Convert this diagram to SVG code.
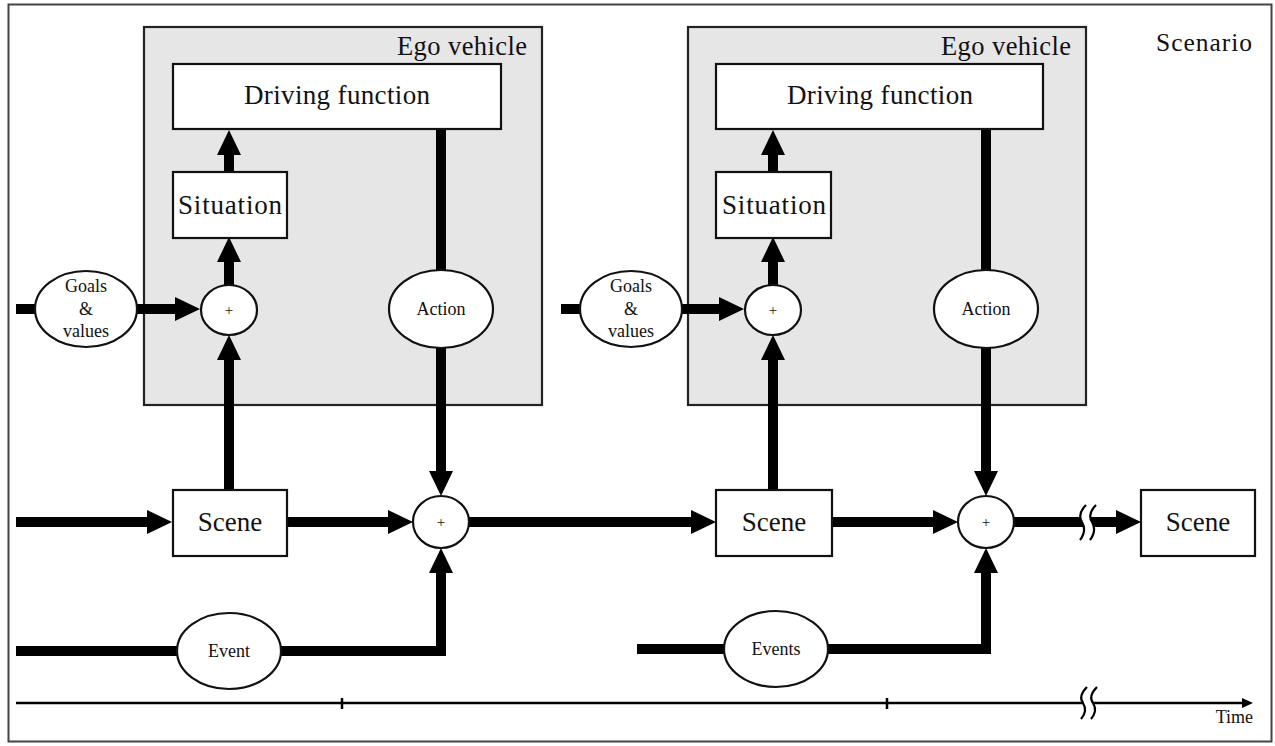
<svg xmlns="http://www.w3.org/2000/svg" width="1275" height="746" viewBox="0 0 1275 746">
<style>
  text { font-family: "Liberation Serif", "Times New Roman", serif; fill: #111; }
  .box { fill: #fff; stroke: #111; stroke-width: 2.2; }
  .ego { fill: #e6e6e6; stroke: #222; stroke-width: 2.2; }
  .ell { fill: #fff; stroke: #111; stroke-width: 2.2; }
  .thick { fill: none; stroke: #000; stroke-width: 10; stroke-linejoin: miter; }
  .big { font-size: 27px; text-anchor: middle; }
  .mid { font-size: 18px; text-anchor: middle; }
  .plus { font-size: 15px; text-anchor: middle; }
  .brk { fill: none; stroke: #000; stroke-width: 2.2; }
</style>
<defs>
  <marker id="ah" markerUnits="userSpaceOnUse" markerWidth="25" markerHeight="24" viewBox="0 0 25 24" refX="1" refY="12" orient="auto">
    <path d="M0,0 L25,12 L0,24 z" fill="#000"/>
  </marker>
  <marker id="ta" markerUnits="userSpaceOnUse" markerWidth="11" markerHeight="10" viewBox="0 0 11 10" refX="1" refY="5" orient="auto">
    <path d="M0,0 L11,5 L0,10 z" fill="#000"/>
  </marker>
</defs>

<rect x="8.5" y="4.5" width="1263" height="737" fill="#fff" stroke="#444" stroke-width="2"/>
<text x="1252" y="51" font-size="25.5" text-anchor="end" textLength="96">Scenario</text>

<g id="ego1">
  <rect class="ego" x="144" y="27" width="398" height="378"/>
  <text x="527" y="55" font-size="26.5" text-anchor="end" textLength="130">Ego vehicle</text>
</g>
<g id="ego2">
  <rect class="ego" x="688" y="27" width="398" height="378"/>
  <text x="1071" y="55" font-size="26.5" text-anchor="end" textLength="130">Ego vehicle</text>
</g>

<g id="connectors">
  <path class="thick" d="M16,522 H148" marker-end="url(#ah)"/>
  <path class="thick" d="M287,522 H389" marker-end="url(#ah)"/>
  <path class="thick" d="M469,522 H692" marker-end="url(#ah)"/>
  <path class="thick" d="M832,522 H934" marker-end="url(#ah)"/>
  <path class="thick" d="M1014,522 H1117" marker-end="url(#ah)"/>
  <path class="thick" d="M229,490 V359" marker-end="url(#ah)"/>
  <path class="thick" d="M229,285 V261" marker-end="url(#ah)"/>
  <path class="thick" d="M229,172 V154" marker-end="url(#ah)"/>
  <path class="thick" d="M441,129 V271"/>
  <path class="thick" d="M441,348 V472" marker-end="url(#ah)"/>
  <path class="thick" d="M16,309 H35"/>
  <path class="thick" d="M137,309 H176" marker-end="url(#ah)"/>
  <path class="thick" d="M16,651 H178 M280,651 H441 V572" marker-end="url(#ah)"/>
  <path class="thick" d="M773,490 V359" marker-end="url(#ah)"/>
  <path class="thick" d="M773,285 V261" marker-end="url(#ah)"/>
  <path class="thick" d="M773,172 V154" marker-end="url(#ah)"/>
  <path class="thick" d="M986,129 V271"/>
  <path class="thick" d="M986,348 V472" marker-end="url(#ah)"/>
  <path class="thick" d="M561,309 H580"/>
  <path class="thick" d="M681,309 H720" marker-end="url(#ah)"/>
  <path class="thick" d="M637,649 H725 M827,649 H986 V572" marker-end="url(#ah)"/>
  <path d="M1086,505 Q1077,514 1082,522 Q1087,531 1080,540 L1090,540 Q1097,531 1092,522 Q1087,514 1096,505 z" fill="#fff"/>
  <path class="brk" d="M1086,505 Q1077,514 1082,522 Q1087,531 1080,540"/>
  <path class="brk" d="M1096,505 Q1087,514 1092,522 Q1097,531 1090,540"/>
  <path d="M16,703 H1243" stroke="#000" stroke-width="2.5" fill="none" marker-end="url(#ta)"/>
  <path d="M342,698 V709 M887,698 V709" stroke="#000" stroke-width="2.5"/>
  <path d="M1087,687 Q1078,696 1083,703 Q1088,711 1081,719 L1091,719 Q1098,711 1093,703 Q1088,696 1097,687 z" fill="#fff"/>
  <path class="brk" d="M1087,687 Q1078,696 1083,703 Q1088,711 1081,719"/>
  <path class="brk" d="M1097,687 Q1088,696 1093,703 Q1098,711 1091,719"/>
</g>
<text x="1253" y="723" font-size="18" text-anchor="end">Time</text>

<g id="driving1">
  <rect class="box" x="173" y="64" width="328" height="65"/>
  <text class="big" x="337" y="104" textLength="186">Driving function</text>
</g>
<g id="situation1">
  <rect class="box" x="173" y="172" width="114" height="66"/>
  <text class="big" x="230" y="214" textLength="104">Situation</text>
</g>
<g id="plusSmall1">
  <ellipse class="ell" cx="229" cy="310" rx="28" ry="25"/>
  <text class="plus" x="229" y="315">+</text>
</g>
<g id="goals1">
  <ellipse class="ell" cx="86" cy="309" rx="51" ry="38"/>
  <text class="mid" x="86" y="292">Goals</text>
  <text class="mid" x="86" y="315">&amp;</text>
  <text class="mid" x="86" y="337">values</text>
</g>
<g id="action1">
  <ellipse class="ell" cx="441" cy="309" rx="52" ry="39"/>
  <text class="mid" x="441" y="315">Action</text>
</g>
<g id="scene1">
  <rect class="box" x="173" y="490" width="114" height="66"/>
  <text class="big" x="230" y="531">Scene</text>
</g>
<g id="plusBig1">
  <ellipse class="ell" cx="441" cy="522" rx="28" ry="26"/>
  <text class="plus" x="441" y="527">+</text>
</g>
<g id="event1">
  <ellipse class="ell" cx="229" cy="651" rx="52" ry="38"/>
  <text class="mid" x="229" y="657">Event</text>
</g>

<g id="driving2">
  <rect class="box" x="716" y="64" width="327" height="65"/>
  <text class="big" x="880" y="104" textLength="186">Driving function</text>
</g>
<g id="situation2">
  <rect class="box" x="716" y="172" width="115" height="66"/>
  <text class="big" x="774" y="214" textLength="104">Situation</text>
</g>
<g id="plusSmall2">
  <ellipse class="ell" cx="773" cy="310" rx="28" ry="25"/>
  <text class="plus" x="773" y="315">+</text>
</g>
<g id="goals2">
  <ellipse class="ell" cx="631" cy="309" rx="51" ry="38"/>
  <text class="mid" x="631" y="292">Goals</text>
  <text class="mid" x="631" y="315">&amp;</text>
  <text class="mid" x="631" y="337">values</text>
</g>
<g id="action2">
  <ellipse class="ell" cx="986" cy="309" rx="52" ry="39"/>
  <text class="mid" x="986" y="315">Action</text>
</g>
<g id="scene2">
  <rect class="box" x="716" y="490" width="116" height="66"/>
  <text class="big" x="774" y="531">Scene</text>
</g>
<g id="plusBig2">
  <ellipse class="ell" cx="986" cy="522" rx="28" ry="26"/>
  <text class="plus" x="986" y="527">+</text>
</g>
<g id="events2">
  <ellipse class="ell" cx="776" cy="649" rx="52" ry="38"/>
  <text class="mid" x="776" y="655">Events</text>
</g>
<g id="scene3">
  <rect class="box" x="1141" y="490" width="114" height="66"/>
  <text class="big" x="1198" y="531">Scene</text>
</g>
</svg>
